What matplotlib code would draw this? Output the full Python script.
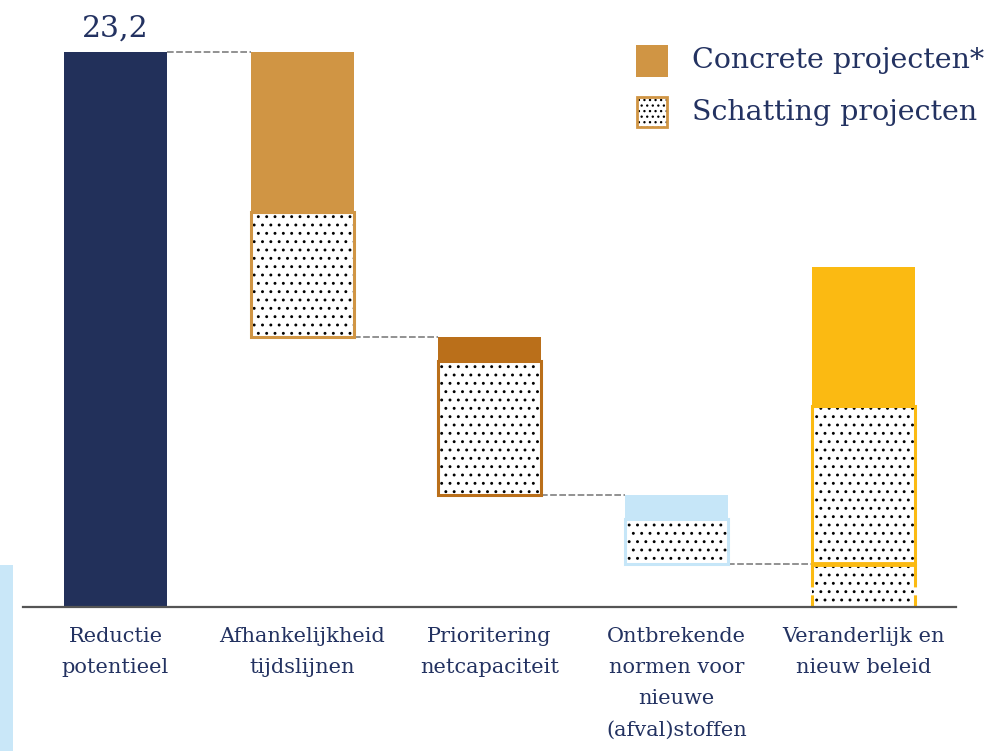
import numpy as np
import matplotlib.pyplot as plt
from matplotlib.patches import Rectangle

# ============================================================
#                         DATA
# ============================================================

categories = ["Reductie\npotentieel", "Afhankelijkheid\ntijdslijnen",
              "Prioritering\nnetcapaciteit", "Ontbrekende\nnormen voor\nnieuwe\n(afval)stoffen",
              "Veranderlijk en\nnieuw beleid"]
total = 23.2
concrete = [0, 6.7, 1.0, 1.0, 5.8]     # concrete projecten
estimate = [0, 5.2, 5.6, 1.9, 6.6]     # schatting projecten
direction = [0, -1, -1, -1, 1]         # last bar goes back up
bar_colors = ["#22305A", "#D09544", "#BA6F1A", "#C6E6F8", "#FBBA12"]
total_label = "23,2"
legend_labels = ["Concrete projecten*", "Schatting projecten"]

NAVY = "#233261"
GREY = "#7F7F7F"

plt.rcParams["font.family"] = ["DejaVu Serif"]
plt.rcParams["hatch.linewidth"] = 0.9

# ============================================================
#                         FIGURE
# ============================================================

fig = plt.figure(figsize=(10.07, 7.51), dpi=100)
ax = fig.add_axes([0, 0, 1, 1])
ax.set_xlim(-0.6176, 4.7674)
ax.set_ylim(-6.02, 25.38)
ax.axis("off")

width = 0.556


def dotted_box(x, y0, y1, color, lw=2.2, edges=True):
    lo, hi = min(y0, y1), max(y0, y1)
    ax.add_patch(Rectangle((x - width / 2, lo), width, hi - lo, facecolor="white",
                           edgecolor="black", hatch="..", lw=0, zorder=2))
    if edges:
        ax.add_patch(Rectangle((x - width / 2, lo), width, hi - lo, fill=False,
                               edgecolor=color, lw=lw, zorder=3))


def solid_box(x, y0, y1, color):
    lo, hi = min(y0, y1), max(y0, y1)
    ax.add_patch(Rectangle((x - width / 2, lo), width, hi - lo, facecolor=color,
                           edgecolor="none", zorder=3))


# first bar: total
solid_box(0, 0, total, bar_colors[0])
ax.text(0, total + 0.67, total_label, ha="center", va="baseline",
        fontsize=21.5, color=NAVY)

level = total
ends = [total]
for i in range(1, len(categories)):
    d = direction[i]
    if d < 0:
        top = level
        mid = top - concrete[i]
        bot = mid - estimate[i]
        dotted_box(i, mid, bot, bar_colors[i])
        solid_box(i, top, mid, bar_colors[i])
        level = bot
    else:
        base = level
        # part below the running level, side edges broken once
        dotted_box(i, 0, base, bar_colors[i], edges=False)
        for sx in (i - width / 2, i + width / 2):
            ax.plot([sx, sx], [base, 0], color=bar_colors[i], lw=2.2, zorder=3,
                    linestyle=(0, (7.5, 2.6, 30, 1)), solid_capstyle="butt")
        mid = base + estimate[i]
        dotted_box(i, base, mid, bar_colors[i])
        solid_box(i, mid, mid + concrete[i], bar_colors[i])
        ax.plot([i - width / 2, i + width / 2], [base, base], color=bar_colors[i],
                lw=3.5, zorder=4, solid_capstyle="butt")
    ends.append(level)

# dashed connectors
for i in range(len(categories) - 1):
    ax.plot([i + width / 2, i + 1 - width / 2], [ends[i], ends[i]],
            color=GREY, lw=1.2, linestyle=(0, (4, 1.5)), zorder=1)

# baseline
ax.axhline(0, xmin=23 / 1007, xmax=956 / 1007, color="#555555", lw=1.6, zorder=5)

# category labels
for i, lab in enumerate(categories):
    ax.text(i, -0.82, lab, ha="center", va="top", fontsize=15,
            color=NAVY, linespacing=1.82)

# ============================================================
#                         LEGEND
# ============================================================

fig.patches.append(Rectangle((636 / 1007, 1 - 77 / 751), 32 / 1007, 32 / 751,
                             transform=fig.transFigure, facecolor=bar_colors[1],
                             edgecolor="none"))
fig.patches.append(Rectangle((637 / 1007, 1 - 127 / 751), 30 / 1007, 30 / 751,
                             transform=fig.transFigure, facecolor="white",
                             edgecolor="black", hatch="...", lw=0))
fig.patches.append(Rectangle((637 / 1007, 1 - 127 / 751), 30 / 1007, 30 / 751,
                             transform=fig.transFigure, fill=False,
                             edgecolor=bar_colors[1], lw=2))
fig.text(692 / 1007, 1 - 61 / 751, legend_labels[0], ha="left", va="center",
         fontsize=20.5, color=NAVY)
fig.text(692 / 1007, 1 - 112 / 751, legend_labels[1], ha="left", va="center",
         fontsize=20.5, color=NAVY)

# cut-off light blue box at the left edge
fig.patches.append(Rectangle((0, 0), 13 / 1007, 186 / 751, transform=fig.transFigure,
                             facecolor="#C9E7F8", edgecolor="none"))

plt.savefig("out.png", dpi=100)
